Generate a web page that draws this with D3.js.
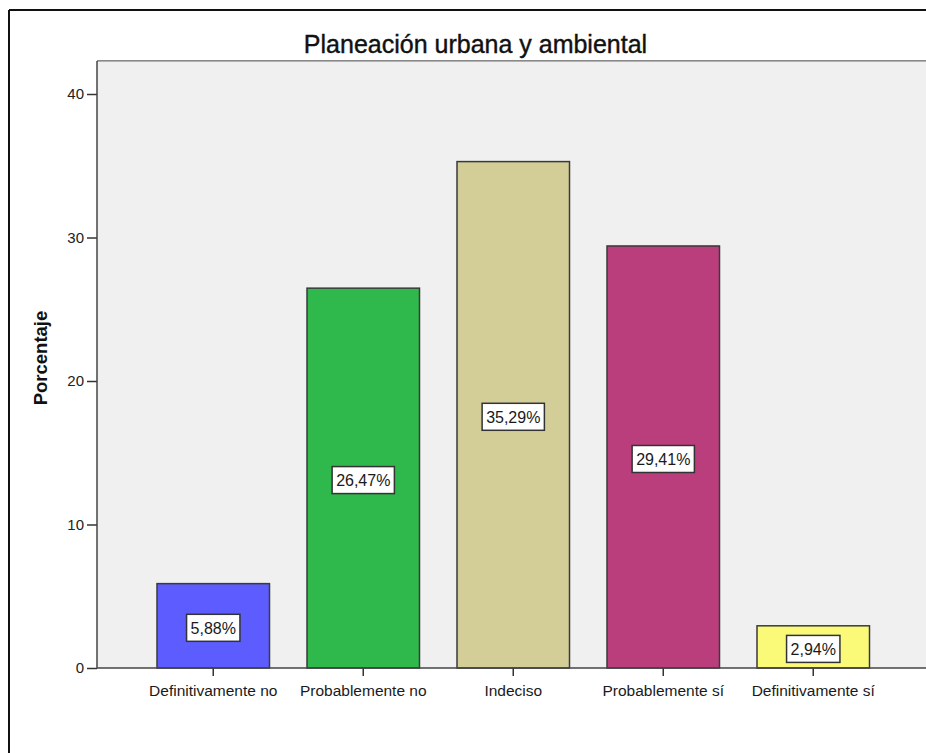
<!DOCTYPE html>
<html>
<head>
<meta charset="utf-8">
<script src="https://cdn.jsdelivr.net/npm/d3@7"></script>
<style>
  html, body { margin: 0; padding: 0; background: #ffffff; }
  svg { display: block; font-family: "Liberation Sans", Arial, sans-serif; }
</style>
</head>
<body>
<svg id="chart" width="926" height="753"></svg>
<script>
const title = "Planeación urbana y ambiental";
const yTitle = "Porcentaje";
const categories = ["Definitivamente no", "Probablemente no", "Indeciso", "Probablemente sí", "Definitivamente sí"];
const values = [5.88, 26.47, 35.29, 29.41, 2.94];
const valueLabels = ["5,88%", "26,47%", "35,29%", "29,41%", "2,94%"];
const colors = ["#5c5cff", "#2fb84b", "#d3ce98", "#ba3e7c", "#fafa78"];
const yTicks = [0, 10, 20, 30, 40];

const svg = d3.select("#chart");
const W = 926, H = 753;
const plot = { left: 97, top: 61, right: 930, bottom: 668 };

// outer frame
svg.append("line").attr("x1", 9).attr("x2", W + 5).attr("y1", 10).attr("y2", 10)
  .attr("stroke", "#111").attr("stroke-width", 2);
svg.append("line").attr("x1", 9).attr("x2", 9).attr("y1", 10).attr("y2", H + 5)
  .attr("stroke", "#111").attr("stroke-width", 2);

// title
svg.append("text").attr("x", 475.5).attr("y", 52.5).attr("text-anchor", "middle")
  .attr("font-size", 25).attr("fill", "#111")
  .attr("stroke", "#111").attr("stroke-width", 0.4).text(title);

const x = d3.scaleBand().domain(categories).range([plot.left, 929.5])
  .paddingInner(0.25).paddingOuter(0.4);
const y = d3.scaleLinear().domain([0, 42.3]).range([plot.bottom, plot.top]);

// plot background
svg.append("rect").attr("x", plot.left).attr("y", plot.top)
  .attr("width", plot.right - plot.left).attr("height", plot.bottom - plot.top)
  .attr("fill", "#f0f0f0");
// top border (gray)
svg.append("line").attr("x1", plot.left).attr("x2", plot.right).attr("y1", plot.top - 0.5).attr("y2", plot.top - 0.5)
  .attr("stroke", "#8a8a8a").attr("stroke-width", 1);
svg.append("line").attr("x1", plot.left).attr("x2", plot.right).attr("y1", plot.top + 0.5).attr("y2", plot.top + 0.5)
  .attr("stroke", "#b0b0b0").attr("stroke-width", 1);

// bars
svg.append("g").selectAll("rect").data(categories).join("rect")
  .attr("x", d => x(d))
  .attr("y", (d, i) => y(values[i]))
  .attr("width", x.bandwidth())
  .attr("height", (d, i) => y(0) - y(values[i]))
  .attr("fill", (d, i) => colors[i])
  .attr("stroke", "#3a3a3a").attr("stroke-width", 1.5);

// y axis
const yAxis = d3.axisLeft(y).tickValues(yTicks).tickSize(10).tickPadding(3).tickFormat(d3.format("d"));
const gy = svg.append("g").attr("transform", `translate(${plot.left},0)`).call(yAxis);
gy.select(".domain").remove();
gy.append("line").attr("x1", 0).attr("x2", 0).attr("y1", plot.top).attr("y2", plot.bottom)
  .attr("stroke", "#444").attr("stroke-width", 1.5);
gy.selectAll(".tick line").attr("stroke", "#333").attr("stroke-width", 1.5);
gy.selectAll(".tick text").attr("font-size", 15).attr("fill", "#222")
  .attr("font-family", "'Liberation Sans', Arial, sans-serif");

// x axis
const xAxis = d3.axisBottom(x).tickSize(8).tickPadding(9);
const gx = svg.append("g").attr("transform", `translate(0,${plot.bottom})`).call(xAxis);
gx.select(".domain").remove();
gx.append("line").attr("x1", plot.left).attr("x2", plot.right).attr("y1", 0).attr("y2", 0)
  .attr("stroke", "#444").attr("stroke-width", 1.5);
gx.selectAll(".tick line").attr("stroke", "#333").attr("stroke-width", 1.5);
gx.selectAll(".tick text").attr("font-size", 15.5).attr("fill", "#1a1a1a")
  .attr("font-family", "'Liberation Sans', Arial, sans-serif");

// y title
svg.append("text").attr("transform", "translate(47,358) rotate(-90)")
  .attr("text-anchor", "middle").attr("font-size", 18.5).attr("font-weight", "bold")
  .attr("fill", "#111").text(yTitle);

// value labels
const lg = svg.append("g").selectAll("g").data(categories).join("g")
  .attr("transform", (d, i) => `translate(${x(d) + x.bandwidth() / 2},${(y(values[i]) + y(0)) / 2 + 2})`);
lg.each(function (d, i) {
  const g = d3.select(this);
  const t = g.append("text").attr("text-anchor", "middle").attr("dy", "0.36em")
    .attr("font-size", 16).attr("fill", "#1a1a1a").text(valueLabels[i]);
  const bb = t.node().getBBox();
  g.insert("rect", "text")
    .attr("x", bb.x - 4).attr("y", -13.5)
    .attr("width", bb.width + 8).attr("height", 27)
    .attr("fill", "#ffffff").attr("stroke", "#333").attr("stroke-width", 1.5);
});
</script>
</body>
</html>
